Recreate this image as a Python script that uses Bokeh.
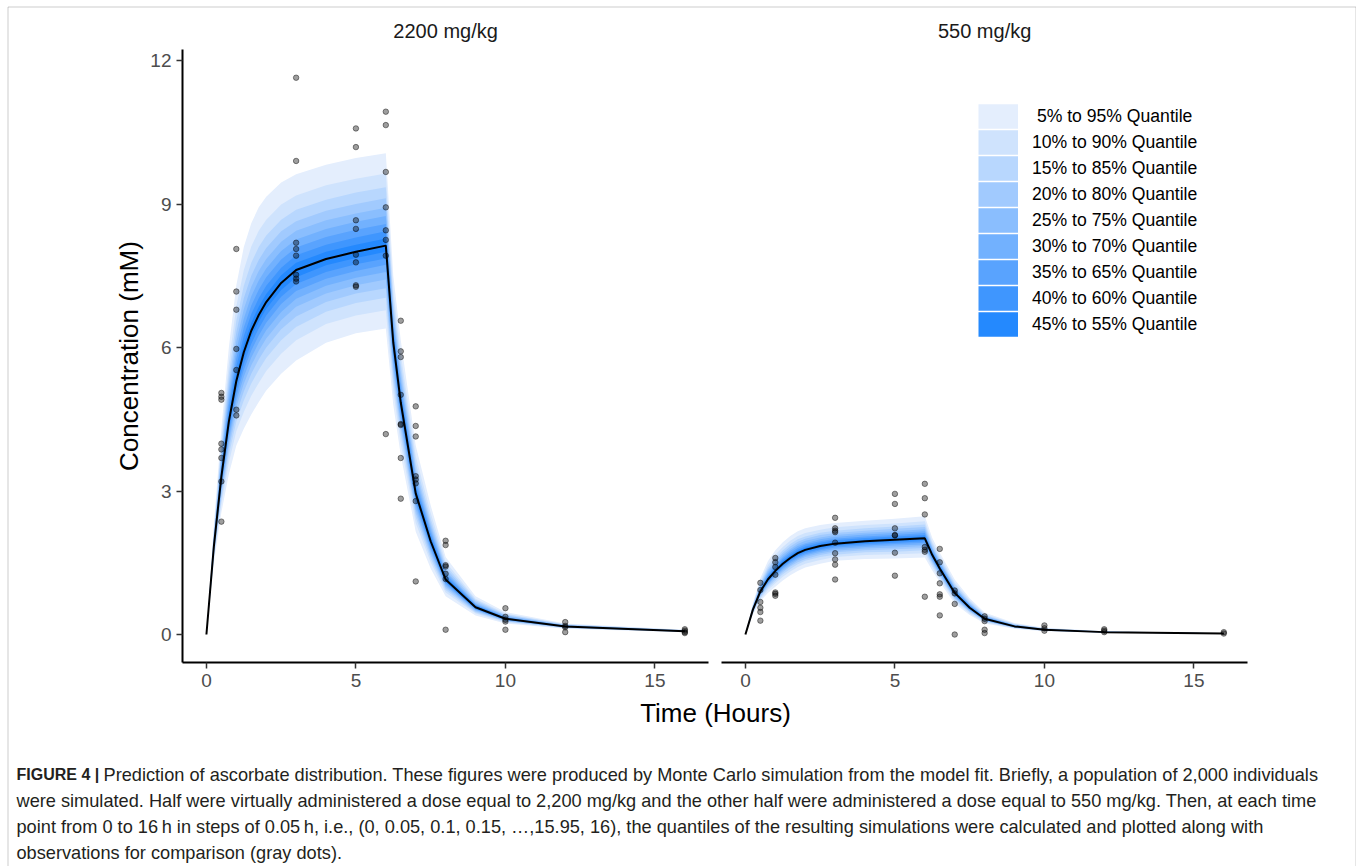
from bokeh.plotting import figure
from bokeh.models import (ColumnDataSource, Range1d, FixedTicker, Legend, LegendItem, Label,
                          LinearAxis, BoxAnnotation)
from bokeh.embed import file_html
from bokeh.resources import INLINE

FONT = "Liberation Sans"

# ---------------- data ----------------
times = [0, 0.25, 0.5, 0.75, 1, 1.25, 1.5, 1.75, 2, 2.5, 3, 4, 5, 6, 6.25, 6.5, 7, 7.5, 8, 9, 10, 12, 16]

# 2200 mg/kg panel : simulated quantiles
hi_q05 = [0, 1.50, 2.55, 3.35, 3.95, 4.30, 4.60, 4.86, 5.10, 5.45, 5.73, 6.10, 6.30, 6.40, 4.80, 3.75, 2.15, 1.38, 0.80, 0.40, 0.23, 0.120, 0.050]
hi_q10 = [0, 1.58, 2.72, 3.59, 4.25, 4.65, 4.99, 5.26, 5.51, 5.87, 6.15, 6.49, 6.67, 6.78, 5.09, 3.99, 2.33, 1.51, 0.88, 0.44, 0.25, 0.131, 0.054]
hi_q15 = [0, 1.63, 2.83, 3.76, 4.45, 4.89, 5.25, 5.53, 5.78, 6.15, 6.43, 6.75, 6.93, 7.04, 5.28, 4.16, 2.45, 1.59, 0.93, 0.46, 0.27, 0.139, 0.057]
hi_q20 = [0, 1.67, 2.92, 3.89, 4.61, 5.08, 5.45, 5.75, 6.00, 6.38, 6.65, 6.95, 7.13, 7.24, 5.43, 4.29, 2.54, 1.66, 0.97, 0.48, 0.28, 0.144, 0.060]
hi_q25 = [0, 1.71, 2.99, 4.00, 4.75, 5.24, 5.63, 5.93, 6.19, 6.57, 6.85, 7.13, 7.30, 7.42, 5.57, 4.40, 2.62, 1.72, 1.01, 0.50, 0.29, 0.150, 0.062]
hi_q30 = [0, 1.74, 3.06, 4.10, 4.87, 5.39, 5.79, 6.10, 6.36, 6.74, 7.02, 7.29, 7.46, 7.58, 5.69, 4.50, 2.70, 1.77, 1.04, 0.52, 0.30, 0.154, 0.064]
hi_q35 = [0, 1.77, 3.12, 4.19, 4.98, 5.53, 5.94, 6.25, 6.52, 6.91, 7.18, 7.44, 7.60, 7.73, 5.80, 4.59, 2.76, 1.82, 1.07, 0.53, 0.31, 0.158, 0.065]
hi_q40 = [0, 1.80, 3.18, 4.28, 5.09, 5.65, 6.08, 6.40, 6.67, 7.06, 7.33, 7.58, 7.74, 7.86, 5.90, 4.68, 2.83, 1.86, 1.10, 0.54, 0.31, 0.162, 0.067]
hi_q45 = [0, 1.82, 3.24, 4.37, 5.20, 5.78, 6.22, 6.54, 6.81, 7.20, 7.47, 7.72, 7.87, 8.00, 6.00, 4.77, 2.89, 1.91, 1.12, 0.56, 0.32, 0.166, 0.068]
hi_q50 = [0, 1.85, 3.30, 4.45, 5.30, 5.90, 6.35, 6.68, 6.95, 7.35, 7.62, 7.85, 8.00, 8.13, 6.10, 4.85, 2.95, 1.95, 1.15, 0.57, 0.33, 0.170, 0.070]
hi_q55 = [0, 1.89, 3.38, 4.57, 5.45, 6.07, 6.52, 6.85, 7.12, 7.51, 7.77, 8.00, 8.15, 8.28, 6.21, 4.95, 3.03, 2.01, 1.19, 0.59, 0.34, 0.175, 0.072]
hi_q60 = [0, 1.92, 3.45, 4.69, 5.61, 6.24, 6.70, 7.03, 7.29, 7.67, 7.93, 8.15, 8.30, 8.43, 6.32, 5.05, 3.10, 2.07, 1.22, 0.61, 0.35, 0.179, 0.075]
hi_q65 = [0, 1.96, 3.53, 4.81, 5.77, 6.42, 6.88, 7.21, 7.47, 7.84, 8.09, 8.31, 8.46, 8.58, 6.43, 5.15, 3.18, 2.13, 1.26, 0.62, 0.36, 0.184, 0.077]
hi_q70 = [0, 1.99, 3.62, 4.94, 5.94, 6.60, 7.07, 7.40, 7.65, 8.02, 8.26, 8.48, 8.63, 8.75, 6.55, 5.27, 3.27, 2.19, 1.30, 0.64, 0.37, 0.189, 0.080]
hi_q75 = [0, 2.04, 3.71, 5.09, 6.12, 6.80, 7.27, 7.60, 7.85, 8.21, 8.44, 8.66, 8.80, 8.92, 6.67, 5.38, 3.36, 2.26, 1.34, 0.66, 0.39, 0.195, 0.082]
hi_q80 = [0, 2.08, 3.81, 5.24, 6.32, 7.03, 7.50, 7.83, 8.08, 8.43, 8.64, 8.86, 9.00, 9.12, 6.82, 5.52, 3.46, 2.33, 1.39, 0.69, 0.40, 0.201, 0.085]
hi_q85 = [0, 2.13, 3.93, 5.43, 6.56, 7.29, 7.77, 8.10, 8.34, 8.67, 8.88, 9.09, 9.24, 9.35, 6.98, 5.67, 3.58, 2.42, 1.45, 0.72, 0.42, 0.208, 0.089]
hi_q90 = [0, 2.20, 4.08, 5.66, 6.86, 7.62, 8.11, 8.44, 8.67, 8.99, 9.18, 9.39, 9.53, 9.64, 7.19, 5.86, 3.73, 2.54, 1.52, 0.75, 0.44, 0.217, 0.093]
hi_q95 = [0, 2.30, 4.30, 6.00, 7.30, 8.10, 8.60, 8.93, 9.15, 9.45, 9.62, 9.82, 9.96, 10.06, 7.50, 6.15, 3.95, 2.70, 1.62, 0.80, 0.47, 0.230, 0.100]

# 550 mg/kg panel : simulated quantiles
lo_q05 = [0, 0.42, 0.70, 0.87, 1.00, 1.13, 1.24, 1.33, 1.40, 1.48, 1.54, 1.58, 1.59, 1.61, 1.34, 1.10, 0.65, 0.41, 0.23, 0.120, 0.070, 0.035, 0.012]
lo_q10 = [0, 0.44, 0.74, 0.93, 1.07, 1.21, 1.32, 1.41, 1.48, 1.56, 1.62, 1.66, 1.68, 1.70, 1.41, 1.16, 0.70, 0.44, 0.25, 0.131, 0.077, 0.038, 0.014]
lo_q15 = [0, 0.46, 0.77, 0.97, 1.12, 1.26, 1.37, 1.47, 1.54, 1.62, 1.67, 1.72, 1.73, 1.76, 1.46, 1.20, 0.73, 0.47, 0.27, 0.139, 0.081, 0.041, 0.015]
lo_q20 = [0, 0.47, 0.80, 1.01, 1.16, 1.30, 1.42, 1.51, 1.58, 1.66, 1.72, 1.76, 1.78, 1.81, 1.50, 1.24, 0.76, 0.48, 0.28, 0.144, 0.085, 0.042, 0.016]
lo_q25 = [0, 0.48, 0.82, 1.04, 1.20, 1.34, 1.45, 1.55, 1.62, 1.70, 1.75, 1.80, 1.82, 1.85, 1.53, 1.27, 0.78, 0.50, 0.29, 0.150, 0.088, 0.044, 0.017]
lo_q30 = [0, 0.49, 0.84, 1.06, 1.23, 1.37, 1.49, 1.58, 1.65, 1.73, 1.79, 1.83, 1.86, 1.88, 1.56, 1.29, 0.80, 0.51, 0.30, 0.154, 0.090, 0.045, 0.017]
lo_q35 = [0, 0.50, 0.85, 1.08, 1.25, 1.40, 1.52, 1.61, 1.68, 1.76, 1.82, 1.86, 1.89, 1.92, 1.59, 1.31, 0.82, 0.53, 0.31, 0.158, 0.093, 0.046, 0.018]
lo_q40 = [0, 0.51, 0.87, 1.11, 1.28, 1.43, 1.55, 1.64, 1.71, 1.79, 1.85, 1.89, 1.92, 1.95, 1.61, 1.34, 0.84, 0.54, 0.32, 0.162, 0.095, 0.048, 0.019]
lo_q45 = [0, 0.51, 0.89, 1.13, 1.31, 1.45, 1.57, 1.67, 1.74, 1.82, 1.87, 1.92, 1.95, 1.98, 1.64, 1.36, 0.85, 0.55, 0.32, 0.166, 0.098, 0.049, 0.019]
lo_q50 = [0, 0.52, 0.90, 1.15, 1.33, 1.48, 1.60, 1.70, 1.77, 1.85, 1.90, 1.95, 1.98, 2.01, 1.66, 1.38, 0.87, 0.56, 0.33, 0.170, 0.100, 0.050, 0.020]
lo_q55 = [0, 0.53, 0.92, 1.18, 1.36, 1.52, 1.64, 1.74, 1.81, 1.88, 1.93, 1.98, 2.01, 2.05, 1.69, 1.41, 0.89, 0.58, 0.34, 0.175, 0.103, 0.052, 0.021]
lo_q60 = [0, 0.54, 0.94, 1.21, 1.40, 1.55, 1.67, 1.77, 1.84, 1.92, 1.97, 2.02, 2.05, 2.08, 1.72, 1.43, 0.91, 0.59, 0.35, 0.181, 0.106, 0.053, 0.022]
lo_q65 = [0, 0.55, 0.97, 1.24, 1.43, 1.59, 1.71, 1.81, 1.88, 1.95, 2.00, 2.05, 2.08, 2.12, 1.74, 1.46, 0.94, 0.61, 0.36, 0.186, 0.109, 0.055, 0.022]
lo_q70 = [0, 0.56, 0.99, 1.27, 1.47, 1.62, 1.75, 1.85, 1.91, 1.99, 2.04, 2.09, 2.12, 2.16, 1.78, 1.49, 0.96, 0.62, 0.37, 0.192, 0.113, 0.056, 0.023]
lo_q75 = [0, 0.57, 1.02, 1.31, 1.51, 1.67, 1.79, 1.89, 1.96, 2.03, 2.08, 2.13, 2.16, 2.20, 1.81, 1.52, 0.99, 0.64, 0.38, 0.199, 0.116, 0.058, 0.024]
lo_q80 = [0, 0.59, 1.04, 1.35, 1.55, 1.71, 1.84, 1.94, 2.00, 2.08, 2.12, 2.17, 2.21, 2.25, 1.84, 1.55, 1.01, 0.66, 0.40, 0.206, 0.120, 0.060, 0.025]
lo_q85 = [0, 0.60, 1.08, 1.39, 1.60, 1.76, 1.89, 1.99, 2.05, 2.13, 2.17, 2.22, 2.26, 2.30, 1.89, 1.59, 1.05, 0.69, 0.41, 0.214, 0.125, 0.063, 0.026]
lo_q90 = [0, 0.62, 1.12, 1.45, 1.67, 1.83, 1.96, 2.06, 2.12, 2.19, 2.24, 2.29, 2.32, 2.37, 1.94, 1.64, 1.09, 0.72, 0.43, 0.225, 0.131, 0.066, 0.028]
lo_q95 = [0, 0.65, 1.18, 1.53, 1.76, 1.93, 2.06, 2.16, 2.22, 2.29, 2.33, 2.38, 2.42, 2.47, 2.02, 1.71, 1.15, 0.76, 0.46, 0.240, 0.140, 0.070, 0.030]

# observations (gray dots)
obs_hi_t = [0.5]*8 + [1]*7 + [3]*8 + [5]*8 + [6]*8 + [6.5]*8 + [7]*8 + [8]*7 + [10]*5 + [12]*4 + [16]*4
obs_hi_v = [5.05, 4.97, 4.91, 3.99, 3.87, 3.69, 3.20, 2.36,
            8.06, 7.17, 6.79, 5.97, 5.53, 4.70, 4.58,
            11.64, 9.90, 8.19, 8.06, 7.92, 7.52, 7.44, 7.38,
            10.58, 10.19, 8.66, 8.48, 7.94, 7.78, 7.30, 7.27,
            10.93, 10.65, 9.67, 8.93, 8.45, 8.25, 7.92, 4.19,
            6.56, 5.92, 5.80, 5.01, 4.40, 4.38, 3.69, 2.84,
            4.77, 4.36, 4.14, 3.31, 3.24, 3.16, 2.79, 1.11,
            1.96, 1.87, 1.45, 1.42, 1.27, 1.16, 0.10,
            0.55, 0.37, 0.31, 0.27, 0.10,
            0.26, 0.18, 0.15, 0.05,
            0.11, 0.08, 0.05, 0.03]
obs_lo_t = [0.5]*6 + [1]*7 + [3]*9 + [5]*7 + [6]*7 + [6.5]*7 + [7]*4 + [8]*5 + [10]*3 + [12]*3 + [16]*2
obs_lo_v = [1.08, 0.93, 0.68, 0.56, 0.47, 0.29,
            1.60, 1.51, 1.41, 1.25, 0.88, 0.85, 0.81,
            2.44, 2.22, 2.17, 2.14, 1.92, 1.70, 1.57, 1.46, 1.15,
            2.94, 2.73, 2.22, 2.08, 2.07, 1.71, 1.23,
            3.15, 2.85, 2.51, 1.83, 1.77, 1.73, 0.79,
            1.79, 1.51, 1.28, 1.07, 0.84, 0.79, 0.40,
            0.92, 0.86, 0.64, 0.00,
            0.38, 0.33, 0.28, 0.10, 0.03,
            0.19, 0.13, 0.08,
            0.11, 0.08, 0.05,
            0.05, 0.02]

panel_titles = ["2200 mg/kg", "550 mg/kg"]
x_ticks = [0, 5, 10, 15]
y_ticks = [0, 3, 6, 9, 12]
band_labels = [" 5% to 95% Quantile", "10% to 90% Quantile", "15% to 85% Quantile",
               "20% to 80% Quantile", "25% to 75% Quantile", "30% to 70% Quantile",
               "35% to 65% Quantile", "40% to 60% Quantile", "45% to 55% Quantile"]
band_pairs = [("q05", "q95"), ("q10", "q90"), ("q15", "q85"), ("q20", "q80"), ("q25", "q75"),
              ("q30", "q70"), ("q35", "q65"), ("q40", "q60"), ("q45", "q55")]
band_colors = ["#E4EEFD", "#CFE3FD", "#B8D7FE", "#A1CAFE", "#8ABEFE",
               "#72B1FE", "#59A3FE", "#3F96FE", "#2489FE"]

hi_src = ColumnDataSource(dict(t=times, q05=hi_q05, q10=hi_q10, q15=hi_q15, q20=hi_q20, q25=hi_q25,
                               q30=hi_q30, q35=hi_q35, q40=hi_q40, q45=hi_q45, q50=hi_q50,
                               q55=hi_q55, q60=hi_q60, q65=hi_q65, q70=hi_q70, q75=hi_q75,
                               q80=hi_q80, q85=hi_q85, q90=hi_q90, q95=hi_q95))
lo_src = ColumnDataSource(dict(t=times, q05=lo_q05, q10=lo_q10, q15=lo_q15, q20=lo_q20, q25=lo_q25,
                               q30=lo_q30, q35=lo_q35, q40=lo_q40, q45=lo_q45, q50=lo_q50,
                               q55=lo_q55, q60=lo_q60, q65=lo_q65, q70=lo_q70, q75=lo_q75,
                               q80=lo_q80, q85=lo_q85, q90=lo_q90, q95=lo_q95))
hi_obs = ColumnDataSource(dict(t=obs_hi_t, v=obs_hi_v))
lo_obs = ColumnDataSource(dict(t=obs_lo_t, v=obs_lo_v))

# ---------------- layout geometry (pixels) ----------------
W, H = 1356, 866
X_LO, X_HI = -0.8, 16.8          # panel x extent (ggplot expansion of 0..16)
Y_LO, Y_HI = -0.585, 12.23       # shared y extent
PX_PER_X = 29.9
PANEL_LEFT = [182, 721]          # left edge of each panel
FRAME_TOP, FRAME_BOTTOM = 49, 662
PX_PER_Y = (FRAME_BOTTOM - FRAME_TOP) / (Y_HI - Y_LO)


def panel_range(left_px):
    return Range1d(X_LO - left_px / PX_PER_X, X_LO + (W - left_px) / PX_PER_X)


p = figure(width=W, height=H, x_range=panel_range(PANEL_LEFT[0]),
           y_range=Range1d(Y_LO - (H - FRAME_BOTTOM) / PX_PER_Y, Y_HI + FRAME_TOP / PX_PER_Y),
           output_backend="svg", toolbar_location=None,
           x_axis_location=None, y_axis_location=None, min_border=0)
p.extra_x_ranges = {"r": panel_range(PANEL_LEFT[1]), "px": Range1d(0, W)}
p.extra_y_ranges = {"px": Range1d(H, 0)}
p.outline_line_color = None
p.grid.visible = False
p.background_fill_color = "white"
p.border_fill_color = "white"

for src, obs, rname in [(hi_src, hi_obs, "default"), (lo_src, lo_obs, "r")]:
    for (a, b), col in zip(band_pairs, band_colors):
        p.varea(x="t", y1=a, y2=b, source=src, fill_color=col, fill_alpha=1.0,
                x_range_name=rname)
    p.line(x="t", y="q50", source=src, line_color="black", line_width=2, x_range_name=rname)
    p.scatter(x="t", y="v", source=obs, size=5.5, marker="circle", x_range_name=rname,
              fill_color="black", fill_alpha=0.38, line_color="black", line_alpha=0.55,
              line_width=0.8)

# legend key proxies: hidden thick lines give full-size square-cornered colour keys
key_renderers = [p.line(x="t", y="q50", source=lo_src, x_range_name="r", line_color=col,
                        line_width=24.5, line_cap="butt", visible=False)
                 for col in band_colors]


def style_axis(ax):
    ax.axis_line_width = 2
    ax.axis_line_color = "black"
    ax.major_tick_line_color = "#333333"
    ax.major_tick_line_width = 1.5
    ax.major_tick_out = 6
    ax.major_tick_in = 0
    ax.minor_tick_line_color = None
    ax.major_label_text_font = FONT
    ax.major_label_text_font_size = "19px"
    ax.major_label_text_color = "#4D4D4D"
    ax.major_label_standoff = 5


# x axes (one per panel)
for rname in ["default", "r"]:
    xa = LinearAxis(x_range_name=rname, fixed_location=Y_LO, bounds=(X_LO, X_HI),
                    ticker=FixedTicker(ticks=x_ticks))
    style_axis(xa)
    p.add_layout(xa, "below")

# y axis (left panel only)
ya = LinearAxis(fixed_location=X_LO, bounds=(Y_LO, Y_HI), ticker=FixedTicker(ticks=y_ticks),
                axis_label="Concentration (mM)")
style_axis(ya)
ya.axis_label_text_font = FONT
ya.axis_label_text_font_size = "26px"
ya.axis_label_text_font_style = "normal"
ya.axis_label_text_color = "black"
ya.axis_label_standoff = 3
p.add_layout(ya, "left")

# strip titles
for title, rname in zip(panel_titles, ["default", "r"]):
    p.add_layout(Label(x=(X_LO + X_HI) / 2, y=30, x_range_name=rname, y_range_name="px",
                       text=title, text_align="center", text_baseline="middle",
                       text_font=FONT, text_font_size="20px", text_color="#1A1A1A"))

# x axis title
p.add_layout(Label(x=715, y=712, x_range_name="px", y_range_name="px", text="Time (Hours)",
                   text_align="center", text_baseline="middle", text_font=FONT,
                   text_font_size="26px", text_color="black"))

# legend
legend = Legend(items=[LegendItem(label=lab, renderers=[r]) for lab, r in zip(band_labels, key_renderers)],
                location=(978, H - 337), orientation="vertical",
                glyph_width=40, glyph_height=26, spacing=0, padding=0, margin=0,
                label_standoff=14, label_height=20,
                label_text_font=FONT, label_text_font_size="17.6px", label_text_color="black",
                border_line_color=None, background_fill_alpha=0)
p.add_layout(legend)

# caption
cap_col = "#231F20"
p.add_layout(Label(x=16, y=774, x_range_name="px", y_range_name="px", text="FIGURE 4 |",
                   text_baseline="middle", text_font=FONT, text_font_size="16px",
                   text_font_style="bold", text_color=cap_col))
cap_lines = [
    "Prediction of ascorbate distribution. These figures were produced by Monte Carlo simulation from the model fit. Briefly, a population of 2,000 individuals",
    "were simulated. Half were virtually administered a dose equal to 2,200 mg/kg and the other half were administered a dose equal to 550 mg/kg. Then, at each time",
    "point from 0 to 16\u2009h in steps of 0.05\u2009h, i.e., (0, 0.05, 0.1, 0.15, \u2026,15.95, 16), the quantiles of the resulting simulations were calculated and plotted along with",
    "observations for comparison (gray dots).",
]
cap_x = [103, 16, 16, 16]
cap_y = [774, 800, 826, 852]
for txt, cx, cy in zip(cap_lines, cap_x, cap_y):
    p.add_layout(Label(x=cx, y=cy, x_range_name="px", y_range_name="px", text=txt,
                       text_baseline="middle", text_font=FONT, text_font_size="18.2px",
                       text_color=cap_col))

# figure frame border
p.add_layout(BoxAnnotation(left=7.5, right=1355.5, top=6.5, bottom=H + 20,
                           x_range_name="px", y_range_name="px",
                           fill_color=None, fill_alpha=0, line_color="#5A5A5A", line_width=1))

open("out.html", "w").write(file_html(p, INLINE))
